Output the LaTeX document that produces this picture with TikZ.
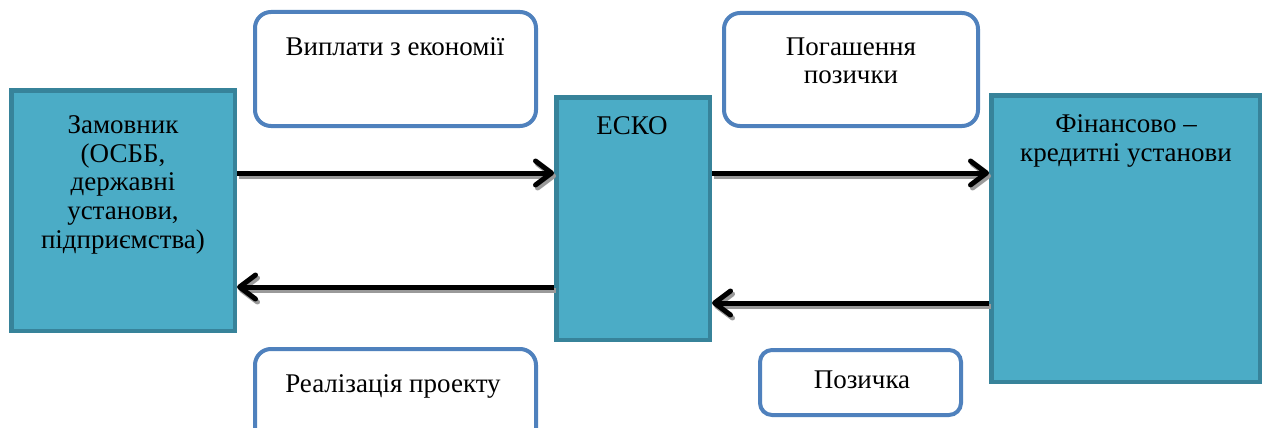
\documentclass[tikz,border=0pt]{standalone}
\usepackage{fontspec}
\setmainfont{Liberation Serif}
\newfontfamily\labelfont{Liberation Serif}
\usetikzlibrary{arrows.meta}

\definecolor{boxfill}{HTML}{4BACC6}
\definecolor{boxedge}{HTML}{37839A}
\definecolor{tagedge}{HTML}{4F81BD}
\definecolor{shadowgray}{HTML}{9A9A9A}

% strut that fixes the height of the first text line
\newcommand\firststrut{\rule{0pt}{22pt}}

\tikzset{
  party/.style={rectangle, draw=boxedge, fill=boxfill, line width=4.5pt, inner sep=0pt},
  tag/.style={rectangle, draw=tagedge, fill=white, line width=4pt, rounded corners=#1, inner sep=0pt},
  tag/.default=16pt,
  txt/.style={anchor=north, align=center, inner sep=0pt, font=\labelfont\fontsize{27}{28.8}\selectfont},
  flowtip/.style={-{Straight Barb[length=16pt,width=24pt,round]}},
  flow/.style={line width=5pt, flowtip,
    preaction={draw=shadowgray, line width=5pt, flowtip,
      transform canvas={shift={(2pt,-3pt)}}}},
}

\begin{document}
\begin{tikzpicture}[x=1pt,y=-1pt]
  \clip (0,0) rectangle (1263,428);
  \fill[white] (0,0) rectangle (1263,428);

  % main participants
  \node[party, minimum width=223.5pt, minimum height=240.5pt] (zam) at (123,210.5) {};
  \node[party, minimum width=153.5pt, minimum height=242.5pt] (esko) at (633,218.5) {};
  \node[party, minimum width=268.5pt, minimum height=286.5pt] (fin) at (1125.5,238.5) {};

  \node[txt] (zamtxt) at (123,111) {\firststrut Замовник\\(ОСББ,\\державні\\установи,\\підприємства)};
  \node[txt] (eskotxt) at (632,112) {\firststrut ЕСКО};
  \node[txt] (fintxt) at (1126,110) {\firststrut Фінансово –\\кредитні установи};

  % flow labels
  \node[tag, minimum width=281pt, minimum height=114pt] (pay) at (395.5,69) {};
  \node[tag, minimum width=254pt, minimum height=113pt] (repay) at (851,69.5) {};
  \node[tag, minimum width=281pt, minimum height=114pt] (impl) at (395.5,406) {};
  \node[tag=12pt, minimum width=201pt, minimum height=65pt] (loan) at (860.5,382.5) {};

  \node[txt] (paytxt) at (395,33) {\firststrut Виплати з економії};
  \node[txt] (repaytxt) at (851,33) {\firststrut Погашення\\позички};
  \node[txt] (impltxt) at (393,370) {\firststrut Реалізація проекту};
  \node[txt] (loantxt) at (862,366) {\firststrut Позичка};

  % rows of the arrows
  \coordinate (rowa) at (0,173);
  \coordinate (rowb) at (0,287);
  \coordinate (rowc) at (0,303);

  \draw[flow] (zam.east |- rowa) -- (esko.west |- rowa);
  \draw[flow] (esko.west |- rowb) -- (zam.east |- rowb);
  \draw[flow] (esko.east |- rowa) -- (fin.west |- rowa);
  \draw[flow] (fin.west |- rowc) -- (esko.east |- rowc);
\end{tikzpicture}
\end{document}
